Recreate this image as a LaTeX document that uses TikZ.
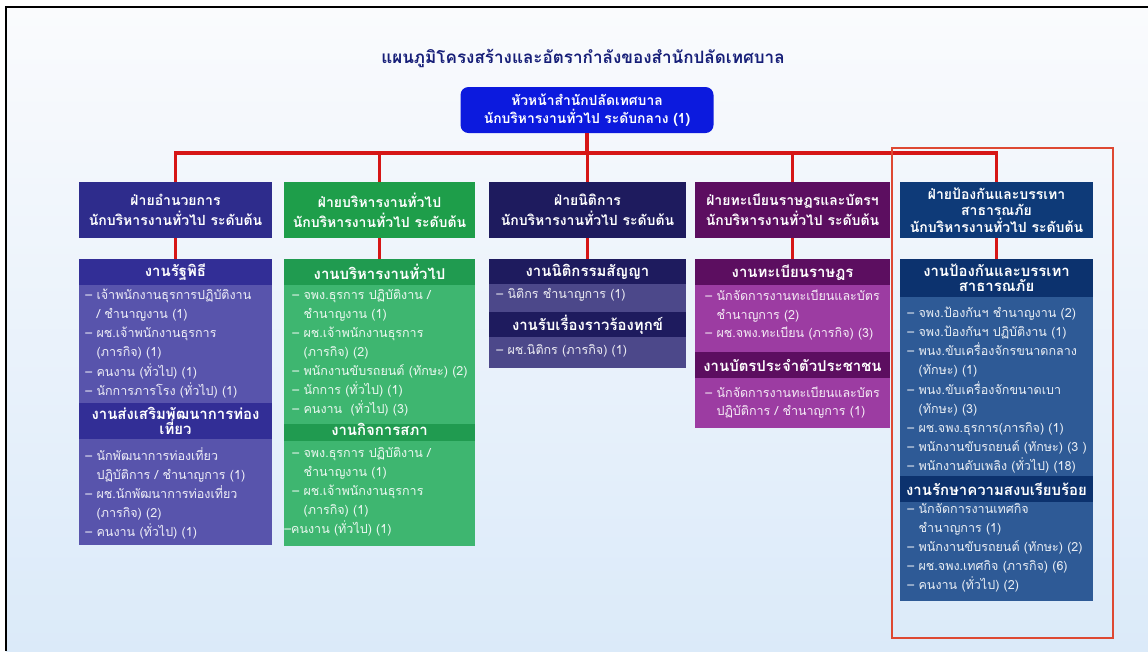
\documentclass[tikz,border=0pt]{standalone}
\usepackage{fontspec}
\newfontfamily\thaifont[Script=Thai]{Loma}
\lineskiplimit=-30pt
\newcommand\fstrut{\rule{0pt}{7.5pt}}
\newcommand\itm[1]{\makebox[8.5pt][l]{–}#1}
\newcommand\cnt[1]{\hspace*{8.5pt}#1}
\definecolor{bgtop}{RGB}{250,251,253}
\definecolor{bgbot}{RGB}{219,234,249}
\definecolor{titlec}{RGB}{22,30,120}
\definecolor{topc}{RGB}{12,26,222}
\definecolor{redc}{RGB}{214,22,22}
\definecolor{rectc}{RGB}{222,72,50}
\definecolor{hA}{RGB}{46,44,140}
\definecolor{bandA}{RGB}{50,46,150}
\definecolor{bodyA}{RGB}{88,84,172}
\definecolor{hB}{RGB}{30,158,74}
\definecolor{bandB}{RGB}{32,155,80}
\definecolor{bodyB}{RGB}{62,182,112}
\definecolor{hC}{RGB}{30,27,94}
\definecolor{bandC}{RGB}{30,27,94}
\definecolor{bodyC}{RGB}{76,72,138}
\definecolor{hD}{RGB}{92,14,96}
\definecolor{bandD}{RGB}{92,14,96}
\definecolor{bodyD}{RGB}{156,60,162}
\definecolor{hE}{RGB}{14,58,120}
\definecolor{bandE}{RGB}{12,50,110}
\definecolor{bodyE}{RGB}{46,90,150}
\begin{document}
\begin{tikzpicture}[x=0.75pt,y=-0.75pt,
  titlestyle/.style={font=\thaifont\bfseries\fontsize{12.8}{15}\selectfont, text=titlec},
  topbox/.style={fill=topc, rounded corners=6pt, text=white, align=center,
    minimum width=189.75pt, minimum height=34.5pt, inner sep=0pt,
    font=\thaifont\bfseries\fontsize{10.4}{14}\selectfont},
  hdr/.style={text=white, align=center, minimum height=42pt, inner sep=0pt,
    font=\thaifont\bfseries\fontsize{10.5}{15}\selectfont},
  bandbox/.style={text=white, align=center, inner sep=0pt, anchor=north,
    font=\thaifont\bfseries\fontsize{11.2}{11.25}\selectfont},
  bodybox/.style={inner sep=0pt, anchor=north},
  items/.style={text=white, text opacity=0.9, align=left, inner sep=0pt, anchor=north west,
    font=\thaifont\fontsize{9.4}{14.3}\selectfont},
  redline/.style={draw=redc, line width=2.3pt},
]
\useasboundingbox (0,0) rectangle (1148,651);
\fill[white] (0,0) rectangle (1148,651);
\shade[top color=bgtop, bottom color=bgbot] (6,7) rectangle (1148,651);
\draw[black, line width=1.5pt] (6,651) -- (6,7) -- (1148,7);

% title and top box
\node[titlestyle] (title) at (583,58) {แผนภูมิโครงสร้างและอัตรากำลังของสำนักปลัดเทศบาล};
\node[topbox] (top) at (587,110) {หัวหน้าสำนักปลัดเทศบาล\\นักบริหารงานทั่วไป ระดับกลาง (1)};

% headers
\node[hdr, fill=hA, minimum width=144.75pt] (h1) at (175.5,210) {ฝ่ายอำนวยการ\\นักบริหารงานทั่วไป ระดับต้น};
\node[hdr, fill=hB, minimum width=143.25pt] (h2) at (379.5,210) {ฝ่ายบริหารงานทั่วไป\\นักบริหารงานทั่วไป ระดับต้น};
\node[hdr, fill=hC, minimum width=147.75pt] (h3) at (587.5,210) {ฝ่ายนิติการ\\นักบริหารงานทั่วไป ระดับต้น};
\node[hdr, fill=hD, minimum width=146.25pt] (h4) at (792.5,210) {ฝ่ายทะเบียนราษฎรและบัตรฯ\\นักบริหารงานทั่วไป ระดับต้น};
\node[hdr, fill=hE, minimum width=144.75pt, font=\thaifont\bfseries\fontsize{10.5}{12.5}\selectfont] (h5) at (996.5,210) {ฝ่ายป้องกันและบรรเทา\\สาธารณภัย\\นักบริหารงานทั่วไป ระดับต้น};

% connectors top
\coordinate (bus) at (587,153);
\draw[redline] (top.south) -- (bus);
\draw[redline] (h1.north) |- (bus) -| (h5.north);
\draw[redline] (h2.north) -- (h2.north |- bus);
\draw[redline] (h3.north) -- (h3.north |- bus);
\draw[redline] (h4.north) -- (h4.north |- bus);

% column 1
\node[bodybox, fill=bodyA, minimum width=144.75pt, minimum height=214.5pt] (b1) at (175.5,259) {};
\node[bandbox, fill=bandA, minimum width=144.75pt, minimum height=19.5pt] (b1a) at (175.5,259) {งานรัฐพิธี};
\node[bandbox, fill=bandA, minimum width=144.75pt, minimum height=27pt] (b1b) at (175.5,403) {งานส่งเสริมพัฒนาการท่อง\\เที่ยว};
\node[items] (i1a) at (85,289) {\fstrut\itm{เจ้าพนักงานธุรการปฏิบัติงาน}\\\cnt{/ ชำนาญงาน (1)}\\\itm{ผช.เจ้าพนักงานธุรการ}\\\cnt{(ภารกิจ) (1)}\\\itm{คนงาน (ทั่วไป) (1)}\\\itm{นักการภารโรง (ทั่วไป) (1)}};
\node[items] (i1b) at (85,447) {\fstrut\itm{นักพัฒนาการท่องเที่ยว}\\\cnt{ปฏิบัติการ / ชำนาญการ (1)}\\\itm{ผช.นักพัฒนาการท่องเที่ยว}\\\cnt{(ภารกิจ) (2)}\\\itm{คนงาน (ทั่วไป) (1)}};

% column 2
\node[bodybox, fill=bodyB, minimum width=143.25pt, minimum height=215.25pt] (b2) at (379.5,259) {};
\node[bandbox, fill=bandB, minimum width=143.25pt, minimum height=19.5pt] (b2a) at (379.5,259) {งานบริหารงานทั่วไป};
\node[bandbox, fill=bandB, minimum width=143.25pt, minimum height=12.75pt, text height=6pt, text depth=1.5pt] (b2b) at (379.5,424) {งานกิจการสภา};
\node[items] (i2a) at (292,289) {\fstrut\itm{จพง.ธุรการ ปฏิบัติงาน /}\\\cnt{ชำนาญงาน (1)}\\\itm{ผช.เจ้าพนักงานธุรการ}\\\cnt{(ภารกิจ) (2)}\\\itm{พนักงานขับรถยนต์ (ทักษะ) (2)}\\\itm{นักการ (ทั่วไป) (1)}\\\itm{คนงาน ~(ทั่วไป) (3)}};
\node[items] (i2b) at (292,447) {\fstrut\itm{จพง.ธุรการ ปฏิบัติงาน /}\\\cnt{ชำนาญงาน (1)}\\\itm{ผช.เจ้าพนักงานธุรการ}\\\cnt{(ภารกิจ) (1)}\\\hspace*{-6pt}–คนงาน (ทั่วไป) (1)};

% column 3
\node[bodybox, fill=bodyC, minimum width=147.75pt, minimum height=81.75pt] (b3) at (587.5,259) {};
\node[bandbox, fill=bandC, minimum width=147.75pt, minimum height=18.75pt] (b3a) at (587.5,259) {งานนิติกรรมสัญญา};
\node[bandbox, fill=bandC, minimum width=147.75pt, minimum height=18.75pt] (b3b) at (587.5,312) {งานรับเรื่องราวร้องทุกข์};
\node[items] (i3a) at (496,288) {\fstrut\itm{นิติกร ชำนาญการ (1)}};
\node[items] (i3b) at (496,344) {\fstrut\itm{ผช.นิติกร (ภารกิจ) (1)}};

% column 4
\node[bodybox, fill=bodyD, minimum width=146.25pt, minimum height=126.75pt] (b4) at (792.5,259) {};
\node[bandbox, fill=bandD, minimum width=146.25pt, minimum height=19.5pt] (b4a) at (792.5,259) {งานทะเบียนราษฎร};
\node[bandbox, fill=bandD, minimum width=146.25pt, minimum height=19.5pt] (b4b) at (792.5,352) {งานบัตรประจำตัวประชาชน};
\node[items, font=\thaifont\fontsize{9.4}{13.9}\selectfont] (i4a) at (705,290) {\fstrut\itm{นักจัดการงานทะเบียนและบัตร}\\\cnt{ชำนาญการ (2)}\\\itm{ผช.จพง.ทะเบียน (ภารกิจ) (3)}};
\node[items, font=\thaifont\fontsize{9.4}{13}\selectfont] (i4b) at (705,387) {\fstrut\itm{นักจัดการงานทะเบียนและบัตร}\\\cnt{ปฏิบัติการ / ชำนาญการ (1)}};

% column 5
\node[bodybox, fill=bodyE, minimum width=144.75pt, minimum height=256.5pt] (b5) at (996.5,259) {};
\node[bandbox, fill=bandE, minimum width=144.75pt, minimum height=28.5pt] (b5a) at (996.5,259) {งานป้องกันและบรรเทา\\สาธารณภัย};
\node[bandbox, fill=bandE, minimum width=144.75pt, minimum height=19.5pt] (b5b) at (996.5,476) {งานรักษาความสงบเรียบร้อย};
\node[items] (i5a) at (907,307) {\fstrut\itm{จพง.ป้องกันฯ ชำนาญงาน (2)}\\\itm{จพง.ป้องกันฯ ปฏิบัติงาน (1)}\\\itm{พนง.ขับเครื่องจักรขนาดกลาง}\\\cnt{(ทักษะ) (1)}\\\itm{พนง.ขับเครื่องจักขนาดเบา}\\\cnt{(ทักษะ) (3)}\\\itm{ผช.จพง.ธุรการ(ภารกิจ) (1)}\\\itm{พนักงานขับรถยนต์ (ทักษะ) (3 )}\\\itm{พนักงานดับเพลิง (ทั่วไป) (18)}};
\node[items] (i5b) at (907,503) {\fstrut\itm{นักจัดการงานเทศกิจ}\\\cnt{ชำนาญการ (1)}\\\itm{พนักงานขับรถยนต์ (ทักษะ) (2)}\\\itm{ผช.จพง.เทศกิจ (ภารกิจ) (6)}\\\itm{คนงาน (ทั่วไป) (2)}};

% header to body connectors
\draw[redline] (h1.south) -- (b1a.north);
\draw[redline] (h2.south) -- (b2a.north);
\draw[redline] (h3.south) -- (b3a.north);
\draw[redline] (h4.south) -- (b4a.north);
\draw[redline] (h5.south) -- (b5a.north);

% highlight frame
\draw[draw=rectc, line width=1.6pt] (892,148) rectangle (1113,638);
\end{tikzpicture}
\end{document}
